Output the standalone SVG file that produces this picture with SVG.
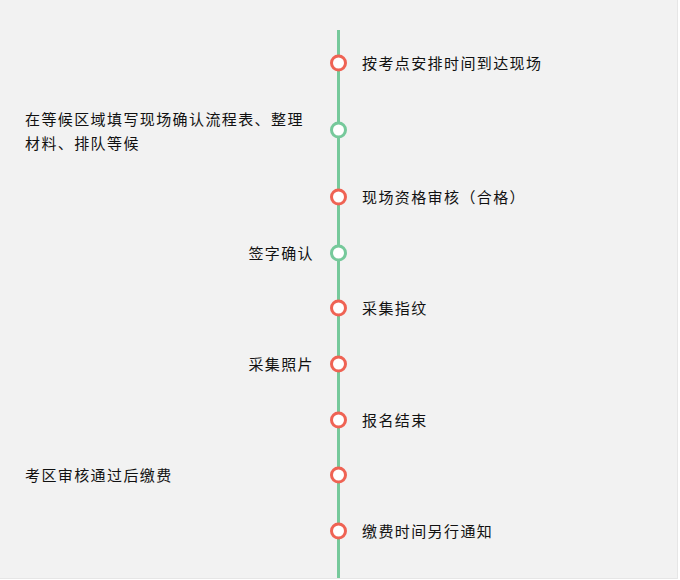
<svg xmlns="http://www.w3.org/2000/svg" width="680" height="580" viewBox="0 0 680 580">
<style>
text{font-family:"Noto Sans CJK SC","Noto Sans",sans-serif;font-size:15px;fill:#111;letter-spacing:1.4px;}
.r{fill:#fff;stroke:#ef6354;stroke-width:3;}
.g{fill:#fff;stroke:#76c99b;stroke-width:3;}
.end{text-anchor:end;}
</style>
<rect x="0" y="0" width="680" height="580" fill="#ffffff"/>
<rect x="0" y="0" width="677" height="578" fill="#f2f2f2"/>
<line x1="677.5" y1="0" x2="677.5" y2="578" stroke="#e6e6e6"/>
<line x1="0" y1="578.5" x2="678" y2="578.5" stroke="#e6e6e6"/>
<g id="connectors">
<line x1="338.5" y1="30" x2="338.5" y2="578" stroke="#76c99b" stroke-width="3"/>
</g>
<g id="n1"><circle class="r" cx="338.5" cy="63" r="7"/><text x="362" y="68.5">按考点安排时间到达现场</text></g>
<g id="n2"><circle class="g" cx="338.5" cy="130" r="7"/><text x="25" y="124.5">在等候区域填写现场确认流程表、整理</text><text x="25" y="148.5">材料、排队等候</text></g>
<g id="n3"><circle class="r" cx="338.5" cy="197" r="7"/><text x="362" y="202.5">现场资格审核（合格）</text></g>
<g id="n4"><circle class="g" cx="338.5" cy="253" r="7"/><text class="end" x="314" y="258.5">签字确认</text></g>
<g id="n5"><circle class="r" cx="338.5" cy="308" r="7"/><text x="362" y="313.5">采集指纹</text></g>
<g id="n6"><circle class="r" cx="338.5" cy="364" r="7"/><text class="end" x="314" y="369.5">采集照片</text></g>
<g id="n7"><circle class="r" cx="338.5" cy="420" r="7"/><text x="362" y="425.5">报名结束</text></g>
<g id="n8"><circle class="r" cx="338.5" cy="475" r="7"/><text x="25" y="480.5">考区审核通过后缴费</text></g>
<g id="n9"><circle class="r" cx="338.5" cy="531" r="7"/><text x="362" y="536.5">缴费时间另行通知</text></g>
</svg>
